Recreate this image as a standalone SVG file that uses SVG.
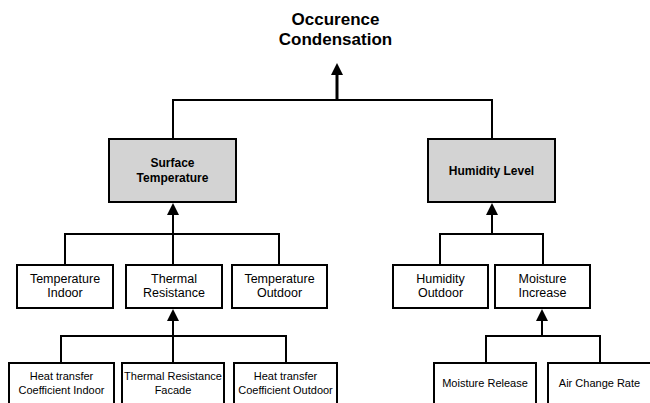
<svg xmlns="http://www.w3.org/2000/svg" width="650" height="403" viewBox="0 0 650 403">
  <style>
    .box { fill: #ffffff; stroke: #000000; stroke-width: 2; }
    .key { fill: #d3d3d3; stroke: #000000; stroke-width: 2; }
    .wire { fill: none; stroke: #000000; stroke-width: 2; }
    .shaft { fill: none; stroke: #000000; stroke-width: 2; marker-end: url(#head); }
    .main { fill: none; stroke: #000000; stroke-width: 3; marker-end: url(#head); }
    text { font-family: "Liberation Sans", Arial, Helvetica, sans-serif; fill: #000000; text-anchor: middle; }
    .title { font-size: 17px; font-weight: bold; }
    .bold { font-size: 12px; font-weight: bold; }
    .mid { font-size: 12.5px; }
    .small { font-size: 11px; }
  </style>
  <defs>
    <marker id="head" markerUnits="userSpaceOnUse" markerWidth="12" markerHeight="12" refX="1" refY="6" orient="auto" overflow="visible">
      <path d="M0,0 L12,6 L0,12 z" fill="#000000"/>
    </marker>
  </defs>

  <!-- goal -->
  <g id="occurence-condensation">
    <text class="title" x="335.5" y="25">Occurence</text>
    <text class="title" x="335.5" y="45">Condensation</text>
  </g>

  <!-- connectors -->
  <g id="connectors">
    <path class="wire" d="M173,139 V100 H492 V139"/>
    <path class="main" d="M337,100 V74"/>

    <path class="wire" d="M65,265 V234 H279 V265"/>
    <path class="shaft" d="M173,265 V214"/>

    <path class="wire" d="M440,265 V234 H543 V265"/>
    <path class="shaft" d="M492,234 V214"/>

    <path class="wire" d="M61,363 V336 H286 V363"/>
    <path class="shaft" d="M173,363 V320"/>

    <path class="wire" d="M486,363 V336 H600 V363"/>
    <path class="shaft" d="M542,336 V320"/>
  </g>

  <!-- first level -->
  <g id="surface-temperature">
    <rect class="key" x="109" y="139" width="127" height="63"/>
    <text class="bold" x="172.5" y="167">Surface</text>
    <text class="bold" x="172.5" y="182">Temperature</text>
  </g>
  <g id="humidity-level">
    <rect class="key" x="428" y="139" width="127" height="63"/>
    <text class="bold" x="491.5" y="175">Humidity Level</text>
  </g>

  <!-- second level -->
  <g id="temperature-indoor">
    <rect class="box" x="17" y="265" width="96" height="43"/>
    <text class="mid" x="65" y="283">Temperature</text>
    <text class="mid" x="65" y="297">Indoor</text>
  </g>
  <g id="thermal-resistance">
    <rect class="box" x="126" y="265" width="96" height="43"/>
    <text class="mid" x="174" y="283">Thermal</text>
    <text class="mid" x="174" y="297">Resistance</text>
  </g>
  <g id="temperature-outdoor">
    <rect class="box" x="232" y="265" width="95" height="43"/>
    <text class="mid" x="279.5" y="283">Temperature</text>
    <text class="mid" x="279.5" y="297">Outdoor</text>
  </g>
  <g id="humidity-outdoor">
    <rect class="box" x="393" y="265" width="95" height="43"/>
    <text class="mid" x="440.5" y="283">Humidity</text>
    <text class="mid" x="440.5" y="297">Outdoor</text>
  </g>
  <g id="moisture-increase">
    <rect class="box" x="495" y="265" width="95" height="43"/>
    <text class="mid" x="542.5" y="283">Moisture</text>
    <text class="mid" x="542.5" y="297">Increase</text>
  </g>

  <!-- third level -->
  <g id="heat-transfer-indoor">
    <rect class="box" x="9" y="363" width="105" height="60"/>
    <text class="small" x="61.5" y="380">Heat transfer</text>
    <text class="small" x="61.5" y="394">Coefficient Indoor</text>
  </g>
  <g id="thermal-resistance-facade">
    <rect class="box" x="122" y="363" width="102" height="60"/>
    <text class="small" x="173" y="380">Thermal Resistance</text>
    <text class="small" x="173" y="394">Facade</text>
  </g>
  <g id="heat-transfer-outdoor">
    <rect class="box" x="234" y="363" width="103" height="60"/>
    <text class="small" x="285.5" y="380">Heat transfer</text>
    <text class="small" x="285.5" y="394">Coefficient Outdoor</text>
  </g>
  <g id="moisture-release">
    <rect class="box" x="434" y="363" width="102" height="60"/>
    <text class="small" x="485" y="387">Moisture Release</text>
  </g>
  <g id="air-change-rate">
    <rect class="box" x="548" y="363" width="103" height="60"/>
    <text class="small" x="599.5" y="387">Air Change Rate</text>
  </g>
</svg>
